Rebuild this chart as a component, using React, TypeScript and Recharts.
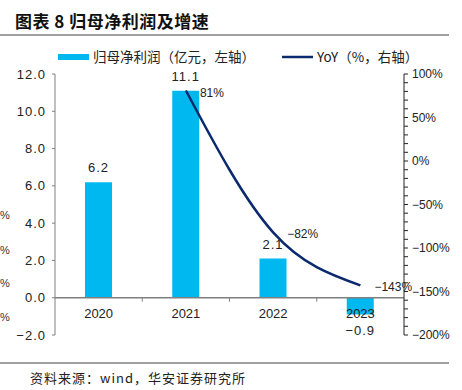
import React from "react";
import {
  Bar,
  ComposedChart,
  LabelList,
  Line,
  ReferenceLine,
  XAxis,
  YAxis,
} from "recharts";

const years = ["2020", "2021", "2022", "2023"];
const profit = [6.2, 11.1, 2.1, -0.9];
const yoy: (number | null)[] = [null, 81, -82, -143];

const leftTicks = [-2, 0, 2, 4, 6, 8, 10, 12];
const rightMajor = [-200, -150, -100, -50, 0, 50, 100];
const rightTicks: number[] = [];
for (let v = -200; v <= 100; v += 10) rightTicks.push(v);

const data = years.map((y, i) => ({ year: y, profit: profit[i], yoy: yoy[i] }));

const W = 462;
const H = 390;
const PLOT_LEFT = 55;
const PLOT_RIGHT = 404;
const PLOT_TOP = 74;
const PLOT_BOTTOM = 335;
const LEFT_MIN = leftTicks[0];
const LEFT_MAX = leftTicks[leftTicks.length - 1];
const zeroY =
  PLOT_TOP + ((PLOT_BOTTOM - PLOT_TOP) * LEFT_MAX) / (LEFT_MAX - LEFT_MIN);
const band = (PLOT_RIGHT - PLOT_LEFT) / years.length;

const BAR = "#00B8F0";
const LINE = "#0B2A6E";
const AXIS = "#808080";
const FONT = "'Liberation Sans', Arial, 'Noto Sans CJK SC', sans-serif";
const CJK = "'Noto Sans CJK SC', 'Liberation Sans', sans-serif";

const minus = (s: string) => s.replace("-", "−");

const XTick = (props: any) => {
  const { x, index, payload } = props;
  return (
    <g>
      <text
        x={x}
        y={zeroY + 20}
        textAnchor="middle"
        fontSize={13}
        fill="#222"
        fontFamily={FONT}
      >
        {payload.value}
      </text>
      {index < years.length - 1 && (
        <line
          x1={x + band / 2}
          x2={x + band / 2}
          y1={zeroY}
          y2={zeroY + 4}
          stroke={AXIS}
        />
      )}
    </g>
  );
};

const BarLabel = (props: any) => {
  const { x, y, width, height, value } = props;
  const neg = value < 0;
  const bottom = Math.max(y, y + height);
  const top = Math.min(y, y + height);
  return (
    <text
      x={x + width / 2}
      y={neg ? bottom + 21 : top - 10}
      textAnchor="middle"
      fontSize={13}
      fill="#222"
      fontFamily={FONT}
      letterSpacing={1}
    >
      {minus(Number(value).toFixed(1))}
    </text>
  );
};

const LineLabel = (props: any) => {
  const { x, y, value } = props;
  if (value == null) return null;
  return (
    <text x={x + 14} y={y + 6} fontSize={12} fill="#222" fontFamily={FONT}>
      {minus(`${value}%`)}
    </text>
  );
};

export default function App() {
  return (
    <div
      style={{
        position: "absolute",
        left: 0,
        top: 0,
        width: W,
        height: H,
        background: "#fff",
        overflow: "hidden",
      }}
    >
      <svg
        width={W}
        height={H}
        style={{ position: "absolute", left: 0, top: 0 }}
      >
        <text
          x={15}
          y={28}
          fontSize={17}
          fontWeight="bold"
          fill="#111"
          fontFamily={CJK}
          letterSpacing={0.5}
        >
          图表 8 归母净利润及增速
        </text>
        <line x1={0} x2={449} y1={35} y2={35} stroke={AXIS} strokeWidth={1.5} />
        <rect x={58} y={54} width={31} height={6} fill={BAR} />
        <text x={93} y={62} fontSize={13.5} fill="#222" fontFamily={CJK}>
          归母净利润（亿元，左轴）
        </text>
        <line x1={282} x2={313} y1={57} y2={57} stroke={LINE} strokeWidth={2.5} />
        <text x={317} y={62} fontSize={13.5} fill="#222" fontFamily={CJK}>
          YoY（%，右轴）
        </text>
        <line x1={0} x2={449} y1={363} y2={363} stroke={AXIS} strokeWidth={1.5} />
        <text x={30} y={383} fontSize={13} fill="#222" fontFamily={CJK} letterSpacing={1}>
          资料来源：wind，华安证券研究所
        </text>
        {[215, 250, 283, 317].map((y) => (
          <text key={y} x={0} y={y + 4} fontSize={11} fill="#333" fontFamily={FONT}>
            %
          </text>
        ))}
      </svg>
      <div style={{ position: "absolute", left: 0, top: 0 }}>
        <ComposedChart
          width={W}
          height={H}
          data={data}
          margin={{ top: PLOT_TOP, right: W - PLOT_RIGHT - 50, bottom: 25, left: PLOT_LEFT - 50 }}
        >
          <XAxis
            dataKey="year"
            axisLine={false}
            tickLine={false}
            height={30}
            tick={<XTick />}
          />
          <YAxis
            yAxisId="left"
            orientation="left"
            width={50}
            domain={[LEFT_MIN, LEFT_MAX]}
            ticks={leftTicks}
            interval={0}
            tickFormatter={(v: number) => minus(v.toFixed(1))}
            tick={{ fontSize: 13, fill: "#222", fontFamily: FONT, letterSpacing: 1 }}
            axisLine={{ stroke: AXIS }}
            tickLine={{ stroke: AXIS }}
            tickSize={3}
            tickMargin={6}
          />
          <YAxis
            yAxisId="right"
            orientation="right"
            width={50}
            domain={[-200, 100]}
            ticks={rightTicks}
            interval={0}
            tickFormatter={(v: number) =>
              rightMajor.includes(v) ? minus(`${v}%`) : ""
            }
            tick={{ fontSize: 12, fill: "#222", fontFamily: FONT }}
            axisLine={{ stroke: "#222" }}
            tickLine={{ stroke: "#222" }}
            tickSize={4}
            tickMargin={4}
          />
          <ReferenceLine yAxisId="left" y={0} stroke={AXIS} strokeWidth={1.5} />
          <Bar
            yAxisId="left"
            dataKey="profit"
            fill={BAR}
            barSize={27}
            isAnimationActive={false}
          >
            <LabelList dataKey="profit" content={<BarLabel />} />
          </Bar>
          <Line
            yAxisId="right"
            dataKey="yoy"
            type="monotone"
            stroke={LINE}
            strokeWidth={2.5}
            dot={false}
            activeDot={false}
            connectNulls={false}
            isAnimationActive={false}
          >
            <LabelList dataKey="yoy" content={<LineLabel />} />
          </Line>
        </ComposedChart>
      </div>
    </div>
  );
}
